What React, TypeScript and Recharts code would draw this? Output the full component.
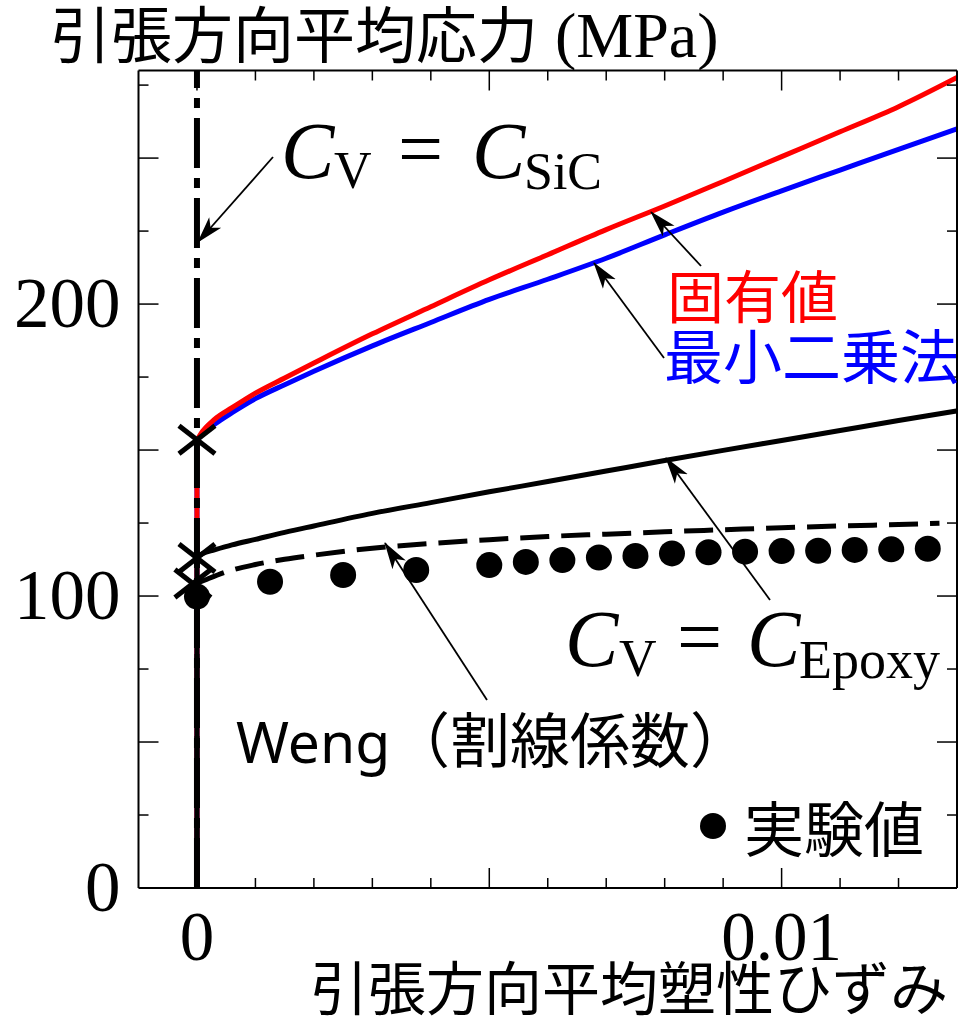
import { ComposedChart, Line, Scatter, XAxis, YAxis } from "recharts";

// strain (x) / mean stress in MPa (y); each model rises straight up at x = 0 to its yield point
const redStemY = [0, 153.4];
const redX = [0, 0.0001, 0.0003, 0.0006, 0.001, 0.0015, 0.002, 0.003, 0.004, 0.005, 0.006, 0.007, 0.008, 0.009, 0.01, 0.011, 0.012, 0.013];
const redY = [153.4, 156.5, 160.5, 164.5, 169.5, 174.7, 179.8, 189.8, 199.1, 208.3, 216.9, 225.5, 233.6, 242, 250.5, 259, 267.6, 277.6];

const blueStemY = [0, 153.4];
const blueX = [0, 0.0001, 0.0003, 0.0006, 0.001, 0.0015, 0.002, 0.003, 0.004, 0.005, 0.006, 0.007, 0.008, 0.009, 0.01, 0.011, 0.012, 0.013];
const blueY = [153.4, 155.5, 158.8, 162.8, 167.6, 172.4, 177, 185.7, 193.7, 201.6, 208.5, 215.7, 223.7, 231.5, 238.8, 245.9, 253, 260];

const epoxyStemY = [0, 113.4];
const epoxyX = [0, 0.0001, 0.0003, 0.0006, 0.001, 0.0015, 0.002, 0.003, 0.004, 0.005, 0.006, 0.007, 0.008, 0.009, 0.01, 0.011, 0.012, 0.013];
const epoxyY = [113.4, 114.6, 115.8, 117.5, 119.4, 121.8, 124.0, 128.3, 132.0, 135.7, 139.2, 142.8, 146.4, 149.9, 153.3, 156.7, 160.1, 163.4];

const wengStemY = [0, 104.3];
const wengX = [0, 0.0002, 0.0005, 0.001, 0.0015, 0.002, 0.003, 0.004, 0.005, 0.006, 0.007, 0.008, 0.009, 0.01, 0.011, 0.012, 0.0127];
const wengY = [104.3, 106.0, 108.3, 110.8, 112.6, 114, 116.4, 118, 119.3, 120.4, 121.2, 122, 122.7, 123.4, 124, 124.5, 124.9];

const sicY = [0, 280];

const expX = [0, 0.00125, 0.0025, 0.00375, 0.005, 0.005625, 0.00625, 0.006875, 0.0075, 0.008125, 0.00875, 0.009375, 0.01, 0.010625, 0.01125, 0.011875, 0.0125];
const expY = [99.8, 104.9, 107.2, 108.9, 110.6, 111.7, 112.3, 113.2, 113.7, 114.6, 115.0, 115.2, 115.4, 115.5, 115.8, 116.0, 116.2];

const yieldX = [0, 0, -0.00007];
const yieldY = [153.5, 113, 104.3];

const xTicks = [0, 0.001, 0.002, 0.003, 0.004, 0.005, 0.006, 0.007, 0.008, 0.009, 0.01, 0.011, 0.012];
const xLabelValues = [0, 0.01];
const xLabelText = ["0", "0.01"];
const yTicks = [0, 25, 50, 75, 100, 125, 150, 175, 200, 225, 250, 275];
const yLabelValues = [0, 100, 200];
const yLabelText = ["0", "100", "200"];

const pts = (xs: number[], ys: number[]) => xs.map((x, i) => ({ x, y: ys[i] }));
const stem = (ys: number[]) => ys.map((y) => ({ x: 0, y }));

const serif = "'Liberation Serif', 'DejaVu Serif', serif";
const jp = "'Noto Sans CJK JP', 'Noto Sans', sans-serif";

const isMajorX = (v: number) => Math.round(v * 1000) % 5 === 0;
const isMajorY = (v: number) => Math.round(v) % 50 === 0;

function BottomTick({ x, y, payload }: any) {
  const v = payload.value;
  const i = xLabelValues.findIndex((l) => Math.abs(l - v) < 1e-9);
  return (
    <g>
      <line x1={x} x2={x} y1={y} y2={y - (isMajorX(v) ? 20 : 10)} stroke="#000" strokeWidth={1.5} />
      {i >= 0 && (
        <text x={x} y={y + 72} textAnchor="middle" fontFamily={serif} fontSize={69} fill="#000">
          {xLabelText[i]}
        </text>
      )}
    </g>
  );
}

function TopTick({ x, y, payload }: any) {
  return <line x1={x} x2={x} y1={y} y2={y + (isMajorX(payload.value) ? 20 : 10)} stroke="#000" strokeWidth={1.5} />;
}

function LeftTick({ x, y, payload }: any) {
  const v = payload.value;
  const i = yLabelValues.indexOf(v);
  return (
    <g>
      {v > 0 && <line x1={x} x2={x + (isMajorY(v) ? 20 : 10)} y1={y} y2={y} stroke="#000" strokeWidth={1.5} />}
      {i >= 0 && (
        <text x={x - 18} y={y + 23} textAnchor="end" fontFamily={serif} fontSize={71} fill="#000">
          {yLabelText[i]}
        </text>
      )}
    </g>
  );
}

function RightTick({ x, y, payload }: any) {
  const v = payload.value;
  if (v <= 0) return <g />;
  return <line x1={x} x2={x - (isMajorY(v) ? 20 : 10)} y1={y} y2={y} stroke="#000" strokeWidth={1.5} />;
}

const Dot = (p: any) => <circle cx={p.cx} cy={p.cy} r={13} fill="#000" />;
const Cross = (p: any) => (
  <g stroke="#000" strokeWidth={5}>
    <line x1={p.cx - 18} y1={p.cy - 14} x2={p.cx + 18} y2={p.cy + 14} />
    <line x1={p.cx - 18} y1={p.cy + 14} x2={p.cx + 18} y2={p.cy - 14} />
  </g>
);

function Arrow({ x1, y1, x2, y2 }: { x1: number; y1: number; x2: number; y2: number }) {
  return <line x1={x1} y1={y1} x2={x2} y2={y2} stroke="#000" strokeWidth={1.8} markerEnd="url(#head)" />;
}

function Overlay() {
  return (
    <svg width={962} height={1021} style={{ position: "absolute", left: 0, top: 0, pointerEvents: "none" }}>
      <defs>
        <marker id="head" markerUnits="userSpaceOnUse" markerWidth={28} markerHeight={18} refX={26} refY={9} orient="auto">
          <path d="M0,1 L27,9 L0,17 L7,9 Z" fill="#000" />
        </marker>
      </defs>
      {/* axis titles */}
      <text x={50} y={58} fontFamily={jp} fontSize={61} fill="#000">引張方向平均応力</text>
      <text x={555} y={57} fontFamily={serif} fontSize={64} fill="#000">(MPa)</text>
      <text x={310} y={1010} fontFamily={jp} fontSize={58} fill="#000">引張方向平均塑性ひずみ</text>

      {/* C_V = C_SiC */}
      <text x={281} y={178} fontFamily={serif} fontStyle="italic" fontSize={80} fill="#000">C</text>
      <text x={334} y={188} fontFamily={serif} fontSize={52} fill="#000">V</text>
      <text x={398} y={176} fontFamily={serif} fontSize={80} fill="#000">=</text>
      <text x={472} y={178} fontFamily={serif} fontStyle="italic" fontSize={80} fill="#000">C</text>
      <text x={524} y={189} fontFamily={serif} fontSize={52} fill="#000">SiC</text>
      <Arrow x1={273} y1={157} x2={198} y2={242} />

      {/* C_V = C_Epoxy */}
      <text x={565} y={666} fontFamily={serif} fontStyle="italic" fontSize={80} fill="#000">C</text>
      <text x={619} y={676} fontFamily={serif} fontSize={52} fill="#000">V</text>
      <text x={677} y={664} fontFamily={serif} fontSize={80} fill="#000">=</text>
      <text x={747} y={666} fontFamily={serif} fontStyle="italic" fontSize={80} fill="#000">C</text>
      <text x={799} y={678} fontFamily={serif} fontSize={54} fill="#000">Epoxy</text>
      <Arrow x1={770} y1={600} x2={666} y2={458} />

      {/* series labels */}
      <text x={667} y={318} fontFamily={jp} fontSize={57} fill="#ff0000">固有値</text>
      <Arrow x1={701} y1={266} x2={651} y2={212} />
      <text x={664} y={379} fontFamily={jp} fontSize={59} fill="#0000ff">最小二乗法</text>
      <Arrow x1={664} y1={358} x2={594} y2={263} />

      <text x={236} y={763} fontFamily="'Noto Sans', sans-serif" fontSize={57} fill="#000">Weng</text>
      <text x={390} y={763} fontFamily={jp} fontSize={60} fill="#000">（割線係数）</text>
      <Arrow x1={487} y1={700} x2={385} y2={543} />

      <circle cx={713} cy={826} r={13} fill="#000" />
      <text x={744} y={852} fontFamily={jp} fontSize={60} fill="#000">実験値</text>
    </svg>
  );
}

export default function App() {
  const axisLine = { stroke: "#000", strokeWidth: 2 };
  const xDomain = [-0.001, 0.013];
  const yDomain = [0, 280];
  const common = { dataKey: "y", dot: false, isAnimationActive: false, strokeWidth: 5 } as const;
  return (
    <div style={{ position: "absolute", left: 0, top: 0, width: 962, height: 1021, background: "#fff" }}>
      <ComposedChart width={962} height={1021} margin={{ top: 0, right: 0, bottom: 0, left: 0 }}>
        <XAxis xAxisId="b" type="number" dataKey="x" domain={xDomain} ticks={xTicks} interval={0}
          height={133} tickSize={0} tickMargin={0} allowDataOverflow axisLine={axisLine} tickLine={false} tick={<BottomTick />} />
        <XAxis xAxisId="t" orientation="top" type="number" dataKey="x" domain={xDomain} ticks={xTicks} interval={0}
          height={70.5} tickSize={0} tickMargin={0} allowDataOverflow axisLine={axisLine} tickLine={false} tick={<TopTick />} />
        <YAxis yAxisId="l" type="number" dataKey="y" domain={yDomain} ticks={yTicks} interval={0}
          width={138.5} tickSize={0} tickMargin={0} allowDataOverflow axisLine={axisLine} tickLine={false} tick={<LeftTick />} />
        <YAxis yAxisId="r" orientation="right" type="number" dataKey="y" domain={yDomain} ticks={yTicks} interval={0}
          width={5} tickSize={0} tickMargin={0} allowDataOverflow axisLine={axisLine} tickLine={false} tick={<RightTick />} />

        <Line {...common} xAxisId="b" yAxisId="l" data={stem(blueStemY)} type="linear" stroke="#0000ff" />
        <Line {...common} xAxisId="b" yAxisId="l" data={pts(blueX, blueY)} type="monotone" stroke="#0000ff" />
        <Line {...common} xAxisId="b" yAxisId="l" data={stem(redStemY)} type="linear" stroke="#ff0000" />
        <Line {...common} xAxisId="b" yAxisId="l" data={pts(redX, redY)} type="monotone" stroke="#ff0000" />
        <Line {...common} xAxisId="t" yAxisId="r" data={stem(sicY)} type="linear" stroke="#000" strokeWidth={6} strokeDasharray="50 10 10 10" />
        <Line {...common} xAxisId="b" yAxisId="l" data={stem(epoxyStemY)} type="linear" stroke="#000" />
        <Line {...common} xAxisId="b" yAxisId="l" data={pts(epoxyX, epoxyY)} type="monotone" stroke="#000" />
        <Line {...common} xAxisId="b" yAxisId="l" data={stem(wengStemY)} type="linear" stroke="#000" strokeDasharray="29 12" />
        <Line {...common} xAxisId="b" yAxisId="l" data={pts(wengX, wengY)} type="monotone" stroke="#000" strokeDasharray="29 12" />
        <Scatter xAxisId="b" yAxisId="l" data={pts(expX, expY)} dataKey="y" shape={Dot} isAnimationActive={false} />
        <Scatter xAxisId="b" yAxisId="l" data={pts(yieldX, yieldY)} dataKey="y" shape={Cross} isAnimationActive={false} />
      </ComposedChart>
      <Overlay />
    </div>
  );
}
